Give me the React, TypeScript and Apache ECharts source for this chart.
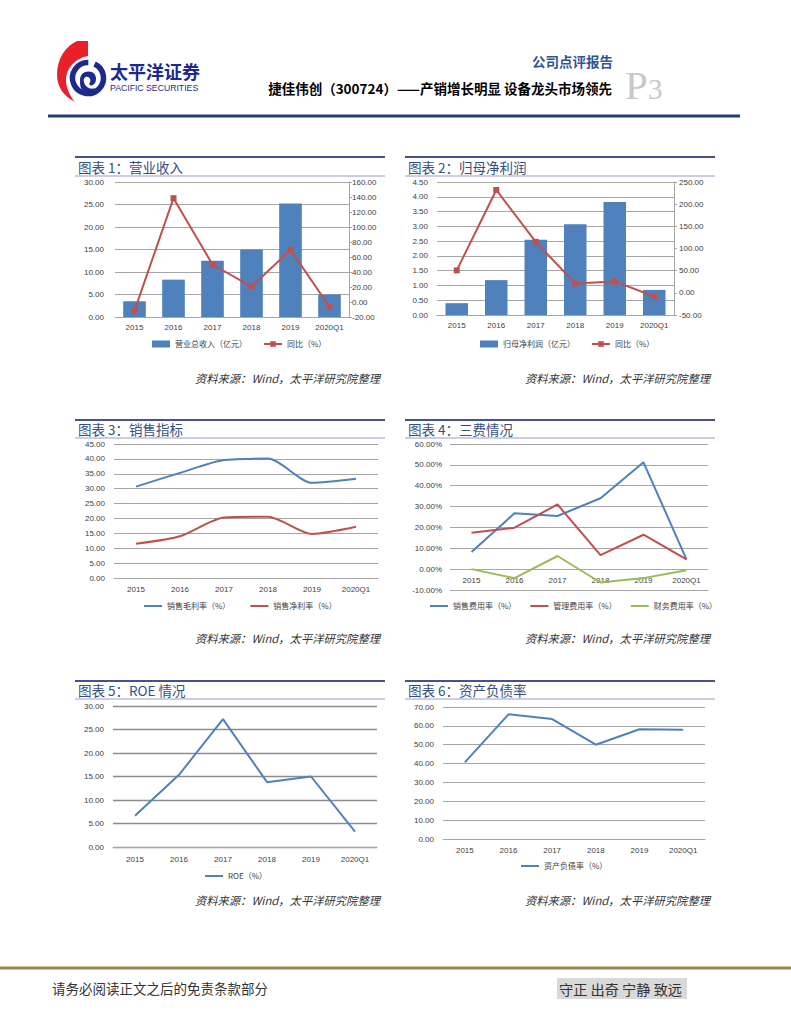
import React, { useEffect, useRef } from "react";
import * as echarts from "echarts";

// ---------- data ----------
const years = ["2015", "2016", "2017", "2018", "2019", "2020Q1"];
const revenue = [3.5, 8.3, 12.5, 15.0, 25.2, 5.0];
const revenueYoY = [-11.6, 138.4, 50.0, 20.5, 69.6, -6.3];
const netProfit = [0.4, 1.18, 2.55, 3.07, 3.82, 0.85];
const netProfitYoY = [50.6, 232.0, 115.0, 21.0, 25.7, -8.3];
const grossMargin = [30.7, 35.3, 39.6, 40.1, 31.95, 33.3];
const netMargin = [11.5, 14.0, 20.3, 20.6, 14.8, 17.2];
const sellingExpRate = [8.2, 26.8, 25.5, 34.0, 51.2, 4.7];
const adminExpRate = [17.5, 19.9, 31.0, 6.7, 16.5, 4.7];
const financeExpRate = [0.0, -4.3, 6.3, -6.4, -4.3, -0.5];
const roe = [6.65, 15.35, 27.2, 13.8, 15.0, 3.25];
const debtRatio = [40.6, 66.1, 63.6, 50.0, 58.2, 58.0];

const panelTitles = [
  "图表 1：营业收入",
  "图表 2：归母净利润",
  "图表 3：销售指标",
  "图表 4：三费情况",
  "图表 5：ROE 情况",
  "图表 6：资产负债率",
];
const sourceText = "资料来源：Wind，太平洋研究院整理";

// ---------- colors / fonts ----------
const BLUE = "#4f81bd";
const RED = "#c0504d";
const GREEN = "#9bbb59";
const CJK = "Noto Sans CJK SC";
const LAT = "Liberation Sans";

// ---------- logo shape ----------
echarts.graphic.registerShape(
  "logoRed",
  echarts.graphic.extendPath(
    "M77,41 L88,41 L88,56 C76,58 66,68 66,80 C66,88 70,96 75,102 C63,96 57,86 57,75 C57,58 66,46 77,41 Z",
    {}
  )
);
echarts.graphic.registerShape(
  "logoSwirl",
  echarts.graphic.extendPath(
    "M80,80 C80,73 86,70 92,72 C96,74 97,79 95,83 C93,86 90,86 89,84 C91,82 91,78 88,77 C85,76 83,79 84,82 C85,87 90,90 95,88 C92,93 84,93 81,88 C80,86 80,83 80,80 Z",
    {}
  )
);

const panels = [
  { x0: 75, x1: 385, top: 157, title: 167, under: 176, src: 378 },
  { x0: 405, x1: 715, top: 157, title: 167, under: 176, src: 378 },
  { x0: 75, x1: 385, top: 420, title: 429, under: 438, src: 638 },
  { x0: 405, x1: 715, top: 420, title: 429, under: 438, src: 638 },
  { x0: 75, x1: 385, top: 681, title: 690, under: 699, src: 900 },
  { x0: 405, x1: 715, top: 681, title: 690, under: 699, src: 900 },
];

function txt(text: string, x: number, y: number, opts: any = {}) {
  const align = opts.align || "left";
  return {
    type: "text",
    x,
    y,
    silent: true,
    style: {
      text,
      fill: opts.fill || "#000",
      fontSize: opts.fontSize || 12,
      fontFamily: opts.fontFamily || CJK,
      fontWeight: opts.fontWeight || "normal",
      fontStyle: opts.fontStyle || "normal",
      align,
      textAlign: align,
      verticalAlign: opts.vAlign || "middle",
      textVerticalAlign: opts.vAlign || "middle",
    },
  };
}

function hline(x0: number, x1: number, y: number, color: string, w: number) {
  return {
    type: "line",
    silent: true,
    shape: { x1: x0, y1: y, x2: x1, y2: y },
    style: { stroke: color, lineWidth: w },
  };
}

function buildGraphics() {
  const g: any[] = [];
  // header logo
  g.push({ type: "logoRed", x: 0, y: 0, style: { fill: "#e8202a" } });
  g.push({
    type: "arc",
    silent: true,
    shape: { cx: 88, cy: 78, r: 15.5, startAngle: -Math.PI * 0.36, endAngle: -Math.PI * 0.36 + Math.PI * 2 - 0.42, clockwise: true },
    style: { stroke: "#1d2a8c", lineWidth: 5.5, fill: null },
  });
  g.push({ type: "logoSwirl", x: 0, y: 0, style: { fill: "#1d2a8c" } });
  g.push(txt("太平洋证券", 110, 70.5, { fontSize: 18, fontWeight: "bold", fill: "#1d2a8c" }));
  g.push(txt("PACIFIC SECURITIES", 110, 87.5, { fontSize: 8.7, fontFamily: LAT, fill: "#1d2a8c" }));
  g.push(txt("公司点评报告", 613, 61, { fontSize: 13.5, fontWeight: "bold", fill: "#2f5597", align: "right" }));
  g.push(txt("捷佳伟创（300724）——产销增长明显 设备龙头市场领先", 612, 88, { fontSize: 13.5, fontWeight: "bold", align: "right" }));
  g.push(txt("P", 625, 85, { fontSize: 41, fontFamily: "Liberation Serif", fill: "#c8c8c8" }));
  g.push(txt("3", 648, 89, { fontSize: 29, fontFamily: "Liberation Serif", fill: "#c8c8c8" }));
  g.push(hline(48, 740, 116, "#1f3f74", 3));

  // panels
  panels.forEach((p, i) => {
    g.push(hline(p.x0, p.x1, p.top, "#4b4f8c", 2));
    g.push(hline(p.x0, p.x1, p.under, "#9a9ac8", 1));
    g.push(txt(panelTitles[i], p.x0 + 3, p.title, { fontSize: 13.5, fill: "#34507f" }));
    g.push(txt(sourceText, p.x0 + 305, p.src, { fontSize: 11.3, fill: "#333", fontStyle: "italic", align: "right" }));
  });

  // footer
  g.push(hline(0, 791, 968, "#948a54", 3));
  g.push(txt("请务必阅读正文之后的免责条款部分", 52, 988, { fontSize: 13.5, fill: "#333" }));
  g.push({ type: "rect", silent: true, shape: { x: 557, y: 978, width: 130, height: 21 }, style: { fill: "#d9d9d9" } });
  g.push(txt("守正 出奇 宁静 致远", 559, 988.5, { fontSize: 14.2, fill: "#333" }));
  return g;
}

const axisLabelBase = { fontSize: 8, color: "#404040", fontFamily: LAT };

function catAxis(gridIndex: number, margin: number) {
  return {
    type: "category",
    gridIndex,
    data: years,
    axisTick: { show: false },
    axisLine: { show: true, onZero: false, lineStyle: { color: "#a6a6a6", width: 1 } },
    axisLabel: { ...axisLabelBase, margin, interval: 0 },
  };
}

function valAxis(gridIndex: number, min: number, max: number, interval: number, opts: any = {}) {
  const suffix = opts.suffix || "";
  return {
    type: "value",
    gridIndex,
    min,
    max,
    interval,
    position: opts.position || "left",
    axisLine: { show: !!opts.line, lineStyle: { color: "#a6a6a6" } },
    axisTick: { show: !!opts.line, length: 3, lineStyle: { color: "#a6a6a6" } },
    splitLine: { show: !opts.noSplit, lineStyle: { color: opts.splitColor || "#a6a6a6", width: opts.splitWidth || 1 } },
    axisLabel: { ...axisLabelBase, margin: opts.margin ?? 9, formatter: (v: number) => v.toFixed(2) + suffix },
  };
}

function legendAt(left: number, top: number, data: any[], itemGap: number, lineOnly = false) {
  return {
    left,
    top,
    data: lineOnly ? data.map((n: string) => ({ name: n, icon: "rect" })) : data,
    padding: 0,
    itemWidth: 18,
    itemHeight: lineOnly ? 2 : 7,
    itemGap,
    selectedMode: false,
    textStyle: { fontSize: 8, color: "#404040", fontFamily: CJK },
  };
}

function lineSeries(name: string, data: number[], x: number, y: number, color: string, extra: any = {}) {
  return {
    type: "line",
    name,
    data,
    xAxisIndex: x,
    yAxisIndex: y,
    symbol: "none",
    lineStyle: { color, width: 2 },
    itemStyle: { color },
    ...extra,
  };
}

function buildOption() {
  return {
    animation: false,
    backgroundColor: "#fff",
    grid: [
      { left: 115, top: 182, width: 234, height: 135 },
      { left: 437, top: 182, width: 237, height: 133 },
      { left: 114, top: 444, width: 264, height: 134 },
      { left: 450, top: 444, width: 258, height: 146 },
      { left: 113, top: 706, width: 264, height: 141 },
      { left: 443, top: 707, width: 262, height: 132 },
    ],
    xAxis: [catAxis(0, 6), catAxis(1, 6), catAxis(2, 7), catAxis(3, -14), catAxis(4, 8), catAxis(5, 7)],
    yAxis: [
      valAxis(0, 0, 30, 5, { margin: 11 }),
      valAxis(0, -20, 160, 20, { position: "right", line: true, noSplit: true, margin: 3 }),
      valAxis(1, 0, 4.5, 0.5, { margin: 9 }),
      valAxis(1, -50, 250, 50, { position: "right", line: true, noSplit: true, margin: 5 }),
      valAxis(2, 0, 45, 5, { margin: 9 }),
      valAxis(3, -10, 60, 10, { suffix: "%", margin: 8 }),
      valAxis(4, 0, 30, 5, { margin: 9, splitColor: "#8c8c8c", splitWidth: 1.3 }),
      valAxis(5, 0, 70, 10, { margin: 9 }),
    ],
    legend: [
      legendAt(152, 340, [{ name: "营业总收入（亿元）", icon: "rect" }, "同比（%）"], 16),
      legendAt(480, 340, [{ name: "归母净利润（亿元）", icon: "rect" }, "同比（%）"], 16),
      legendAt(144, 602, ["销售毛利率（%）", "销售净利率（%）"], 20, true),
      legendAt(430, 602, ["销售费用率（%）", "管理费用率（%）", "财务费用率（%）"], 14, true),
      legendAt(205, 872, ["ROE（%）"], 14, true),
      legendAt(521, 862, ["资产负债率（%）"], 14, true),
    ],
    series: [
      { type: "bar", name: "营业总收入（亿元）", data: revenue, xAxisIndex: 0, yAxisIndex: 0, barWidth: "58%", itemStyle: { color: BLUE } },
      lineSeries("同比（%）", revenueYoY, 0, 1, RED, { symbol: "rect", symbolSize: 6 }),
      { type: "bar", name: "归母净利润（亿元）", data: netProfit, xAxisIndex: 1, yAxisIndex: 2, barWidth: "57%", itemStyle: { color: BLUE } },
      lineSeries("同比（%）", netProfitYoY, 1, 3, RED, { symbol: "rect", symbolSize: 6 }),
      lineSeries("销售毛利率（%）", grossMargin, 2, 4, BLUE, { smooth: 0.25 }),
      lineSeries("销售净利率（%）", netMargin, 2, 4, RED, { smooth: 0.25 }),
      lineSeries("销售费用率（%）", sellingExpRate, 3, 5, BLUE),
      lineSeries("管理费用率（%）", adminExpRate, 3, 5, RED),
      lineSeries("财务费用率（%）", financeExpRate, 3, 5, GREEN),
      lineSeries("ROE（%）", roe, 4, 6, BLUE),
      lineSeries("资产负债率（%）", debtRatio, 5, 7, BLUE),
    ],
    graphic: buildGraphics(),
  };
}

export default function App() {
  const ref = useRef<HTMLDivElement>(null);
  useEffect(() => {
    if (!ref.current) return;
    const chart = echarts.init(ref.current, null, { renderer: "svg" });
    chart.setOption(buildOption() as any);
    return () => chart.dispose();
  }, []);
  return (
    <div
      ref={ref}
      style={{ position: "absolute", left: 0, top: 0, width: 791, height: 1024, background: "#fff" }}
    />
  );
}
